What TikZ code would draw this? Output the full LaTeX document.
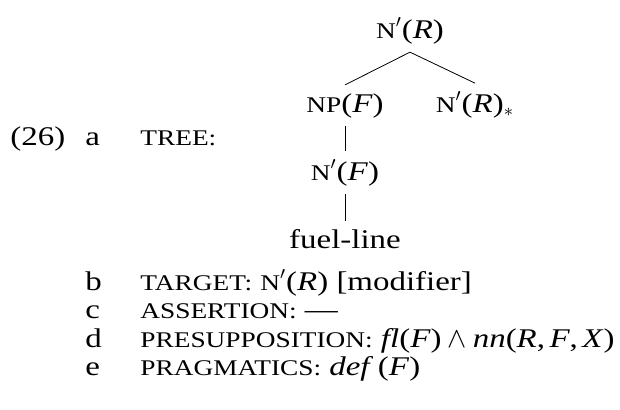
\documentclass[tikz,border=0pt]{standalone}
\usepackage{amsmath,amssymb}
\usepackage{fontspec}
\setmainfont{Liberation Serif}[FakeStretch=1.22]
\usetikzlibrary{positioning}
\newcommand{\sml}[1]{{\fontsize{11.2}{13}\selectfont #1}}
\newcommand{\nb}{\sml{N}$'$}
\begin{document}
\begin{tikzpicture}[x=5pt,y=5pt]
			\tikzset{tn/.style={inner sep=4pt,anchor=base,font=\fontsize{13.5}{16}\selectfont},
				ln/.style={inner sep=0pt,anchor=base west,font=\fontsize{13.5}{16}\selectfont}}
			\useasboundingbox (0,0) rectangle (62,-40.9);
			% tree
			\draw (41.0,-3.8) node [tn] (nr) {\nb(\textit{R})};
			\draw (34.5,-11.2) node [tn] (np) {\sml{NP}(\textit{F})};
			\draw (47.5,-11.2) node [tn] (nrs) {\nb(\textit{R})$_{*}$};
			\draw (34.5,-18.0) node [tn] (nf) {\nb(\textit{F})};
			\draw (34.5,-24.8) node [tn] (fl) {fuel-line};
			\draw [black] (nr.south) -- (np.north);
			\draw [black] (nr.south) -- (nrs.north);
			\draw [black] (np) -- (nf);
			\draw [black] (nf) -- (fl);
			% list
			\draw (1.0,-14.5) node [ln] (num) {(26)};
			\draw (8.5,-14.5) node [ln] (la) {a};
			\draw (14.0,-14.5) node [ln] (ta) {\sml{TREE:}};
			\draw (8.5,-29.0) node [ln] (lb) {b};
			\draw (14.0,-29.0) node [ln] (tb) {\sml{TARGET:} \nb(\textit{R}) [modifier]};
			\draw (8.5,-31.8) node [ln] (lc) {c};
			\draw (14.0,-31.8) node [ln] (tc) {\sml{ASSERTION:} ---};
			\draw (8.5,-34.7) node [ln] (ld) {d};
			\draw (14.0,-34.7) node [ln] (td) {\sml{PRESUPPOSITION:} \textit{fl}(\textit{F})\:$\wedge$\:\textit{nn}(\textit{R},\,\textit{F},\,\textit{X})};
			\draw (8.5,-37.5) node [ln] (le) {e};
			\draw (14.0,-37.5) node [ln] (te) {\sml{PRAGMATICS:} \textit{def}\,(\textit{F})};
\end{tikzpicture}
\end{document}
